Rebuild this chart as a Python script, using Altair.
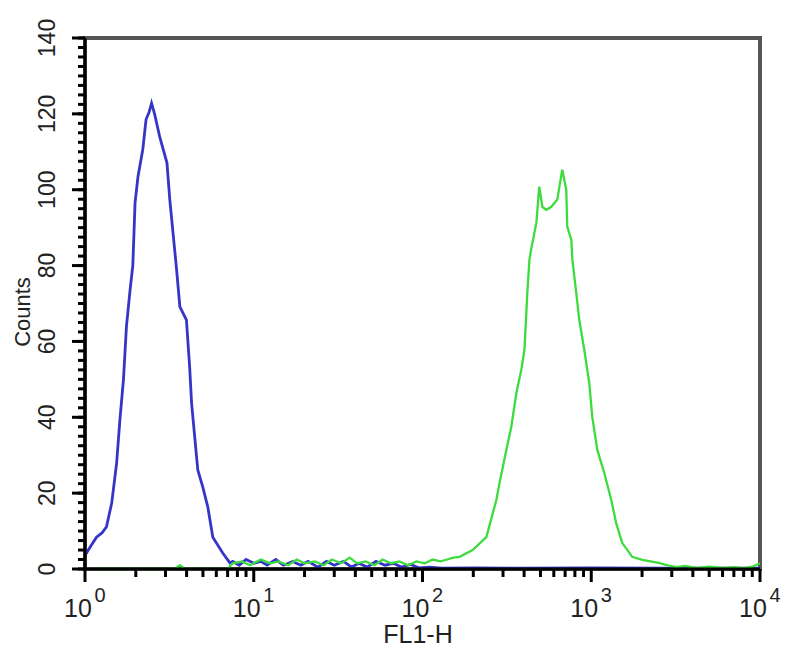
import altair as alt
import pandas as pd

# ---- data ----
blue_x = [1.0, 1.02, 1.08, 1.17, 1.26, 1.34, 1.44, 1.54, 1.61, 1.69, 1.76, 1.85, 1.92, 1.98,
          2.06, 2.20, 2.30, 2.40, 2.48, 2.59, 2.78, 3.06, 3.18, 3.49, 3.65, 3.99, 4.17, 4.28,
          4.47, 4.66, 4.99, 5.34, 5.72, 6.55, 7.22, 7.5, 8.2, 9.0, 10.0, 11.0, 12.0, 13.5,
          15.0, 17.0, 19.0, 21.0, 24.0, 27.0, 30.0, 34.0, 38.0, 42.0, 47.0, 53.0, 60.0,
          67.0, 75.0, 85.0, 95.0, 110.0, 130.0, 200.0, 400.0, 1000.0, 2500.0, 10000.0]
blue_y = [4.5, 4.2, 6.0, 8.4, 9.5, 11.1, 17.4, 28.0, 39.3, 49.9, 63.9, 73.6, 80.0, 96.6,
          103.4, 110.6, 118.5, 120.5, 122.8, 119.8, 113.7, 107.1, 97.4, 78.9, 69.1, 65.7, 53.3, 43.8,
          34.8, 26.1, 21.6, 16.4, 8.4, 4.2, 1.6, 2.0, 1.0, 2.5, 1.5, 2.0, 1.0, 2.5,
          1.0, 2.0, 1.0, 2.0, 0.5, 2.0, 1.0, 2.0, 0.5, 1.5, 0.5, 2.0, 1.0,
          1.5, 0.5, 1.2, 0.3, 0.5, 0.2, 0.3, 0.2, 0.3, 0.2, 0.2]

green_x = [1.0, 3.4, 3.65, 3.9, 7.0, 7.5, 8.5, 9.5, 11.0, 12.5, 14.0, 16.0, 18.0, 20.0, 23.0,
           26.0, 29.0, 33.0, 37.0, 41.0, 46.0, 52.0, 58.0, 65.0, 73.0, 82.0, 92.0, 103.0,
           115.0, 128.0, 140.0, 152.0, 166.0, 198.0, 239.0, 274.0, 286.0, 314.0, 336.0, 360.0,
           385.0, 402.0, 418.0, 430.0, 440.0, 473.0, 492.0, 513.0, 541.0, 580.0, 629.0, 673.0,
           711.0, 721.0, 762.0, 773.0, 815.0, 849.0, 909.0, 973.0, 1014.0, 1086.0, 1195.0,
           1314.0, 1405.0, 1525.0, 1749.0, 2004.0, 2513.0, 2800.0, 3200.0, 3600.0, 4200.0,
           5000.0, 6000.0, 7000.0, 8000.0, 9000.0, 10000.0]
green_y = [0.0, 0.0, 1.0, 0.0, 0.0, 1.5, 2.0, 1.0, 2.5, 1.5, 2.0, 1.0, 2.5, 1.5, 2.0,
           1.0, 2.5, 1.5, 3.0, 1.5, 2.0, 1.0, 2.5, 1.5, 2.0, 1.0, 2.0, 1.5,
           2.5, 2.0, 2.5, 3.0, 3.2, 5.0, 8.4, 18.2, 22.7, 31.4, 37.5, 46.4,
           52.5, 57.8, 72.8, 81.5, 84.2, 91.3, 100.8, 95.5, 94.7, 95.5, 97.4, 105.3,
           100.0, 90.2, 86.8, 81.5, 72.8, 65.7, 57.8, 49.1, 40.1, 31.4, 25.3,
           18.2, 12.1, 6.9, 3.2, 2.4, 1.6, 1.0, 0.5, 0.8, 0.3,
           0.6, 0.3, 0.5, 0.2, 0.6, 1.5]

x_major = [1, 10, 100, 1000, 10000]
x_minor = [m * d for d in [1, 10, 100, 1000] for m in range(2, 10)]
x_base = ["10", "10", "10", "10", "10"]
x_exp = ["0", "1", "2", "3", "4"]
y_major = [0, 20, 40, 60, 80, 100, 120, 140]
y_labels = ["0", "20", "40", "60", "80", "100", "120", "140"]
y_minor = [i * 2.5 for i in range(0, 57)]
x_title = "FL1-H"
y_title = "Counts"

W, H = 675, 531
FONT = "Liberation Sans"
TICK = "black"
TXT = "#222"

blue_df = pd.DataFrame({"x": blue_x, "y": blue_y})
green_df = pd.DataFrame({"x": green_x, "y": green_y})
xlab_df = pd.DataFrame({"x": x_major, "base": x_base, "exp": x_exp})
ylab_df = pd.DataFrame({"y": y_major, "label": y_labels})
xmaj_df = pd.DataFrame({"x": x_major})
xmin_df = pd.DataFrame({"x": x_minor})
ymaj_df = pd.DataFrame({"y": y_major})
ymin_df = pd.DataFrame({"y": y_minor})
one_df = pd.DataFrame({"k": [0]})

xscale = alt.Scale(type="log", domain=[1, 10000], nice=False)
yscale = alt.Scale(domain=[0, 140], nice=False, zero=True)
X = lambda: alt.X("x:Q", scale=xscale, axis=None)
Y = lambda: alt.Y("y:Q", scale=yscale, axis=None)

blue = alt.Chart(blue_df).mark_line(color="#3535c8", strokeWidth=2.8).encode(x=X(), y=Y())
green = alt.Chart(green_df).mark_line(color="#3ddc3d", strokeWidth=2.3).encode(x=X(), y=Y())

# tick marks as rules placed through the scales
xmaj_ticks = alt.Chart(xmaj_df).mark_rule(color=TICK, strokeWidth=3).encode(
    x=X(), y=alt.value(H), y2=alt.value(H + 13))
xmin_ticks = alt.Chart(xmin_df).mark_rule(color=TICK, strokeWidth=3).encode(
    x=X(), y=alt.value(H), y2=alt.value(H + 8))
ymaj_ticks = alt.Chart(ymaj_df).mark_rule(color=TICK, strokeWidth=3).encode(
    y=Y(), x=alt.value(-13), x2=alt.value(0))
ymin_ticks = alt.Chart(ymin_df).mark_rule(color=TICK, strokeWidth=3).encode(
    y=Y(), x=alt.value(-7), x2=alt.value(0))

# axis lines (left and bottom)
left_line = alt.Chart(one_df).mark_rule(color="black", strokeWidth=3).encode(
    x=alt.value(0), y=alt.value(0), y2=alt.value(H + 1))
bottom_line = alt.Chart(one_df).mark_rule(color="black", strokeWidth=3).encode(
    y=alt.value(H), x=alt.value(-1), x2=alt.value(W))

# tick labels
ylab_txt = alt.Chart(ylab_df).mark_text(
    font=FONT, fontSize=23, color=TXT, angle=270, align="center", baseline="middle"
).encode(y=Y(), x=alt.value(-37), text="label:N")

base_txt = alt.Chart(xlab_df).mark_text(
    font=FONT, fontSize=25, color=TXT, align="center", baseline="alphabetic", dx=-7
).encode(x=X(), y=alt.value(H + 48), text="base:N")

exp_txt = alt.Chart(xlab_df).mark_text(
    font=FONT, fontSize=20, color=TXT, align="center", baseline="alphabetic", dx=15
).encode(x=X(), y=alt.value(H + 33), text="exp:N")

# axis titles
ytitle_txt = alt.Chart(one_df).mark_text(
    text=y_title, font=FONT, fontSize=22, color=TXT, angle=270, align="center",
    baseline="middle"
).encode(x=alt.value(-62), y=alt.value(274))

xtitle_txt = alt.Chart(one_df).mark_text(
    text=x_title, font=FONT, fontSize=25, color=TXT, align="center", baseline="alphabetic"
).encode(x=alt.value(333), y=alt.value(H + 74))

chart = alt.layer(
    blue, green, xmaj_ticks, xmin_ticks, ymaj_ticks, ymin_ticks, left_line, bottom_line,
    ylab_txt, base_txt, exp_txt, ytitle_txt, xtitle_txt
).properties(
    width=W, height=H,
    autosize=alt.AutoSizeParams(type="none"),
    padding={"left": 77, "top": 30, "right": 30, "bottom": 79},
    background="white",
).configure_view(
    stroke="#555", strokeWidth=4
)

chart.save("out.html", embed_options={"renderer": "svg", "actions": False})
